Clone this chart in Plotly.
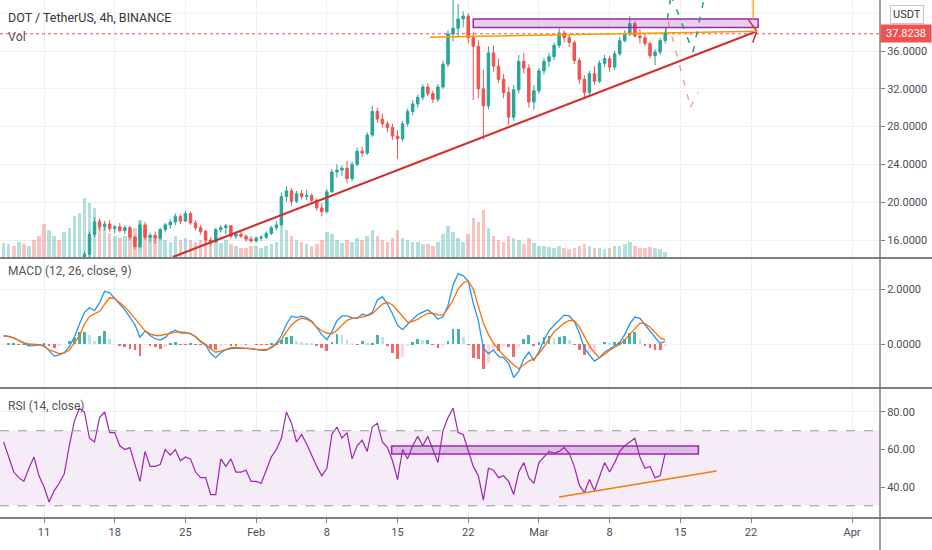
import pandas as pd
import plotly.graph_objects as go

# 12h candles, DOT/USDT
times = pd.date_range("2021-01-07 00:00", periods=132, freq="12h")

opens = [
    9.6, 10.2, 10.7, 10.3, 10.8, 10.6, 11.1, 10.8, 10.1, 8.7, 9.2, 9.6, 9.3, 10.1, 10.7, 11.8,
    13.1, 14.5, 16.6, 17.9, 17.4, 17.7, 17.2, 17.4, 17.0, 17.3, 16.3, 15.3, 17.6, 16.3, 16.5, 16.2,
    17.1, 17.6, 17.9, 18.5, 18.0, 18.8, 17.8, 17.3, 16.9, 16.0, 15.8, 17.1, 17.3, 17.5, 16.4, 16.6,
    16.4, 16.1,
    15.9, 16.2, 16.3, 16.7, 17.3, 17.6, 20.6, 21.2, 20.1, 20.9, 20.6, 20.7, 20.2, 19.4, 19.0, 21.1,
    23.2, 23.4, 23.6, 22.5, 24.0, 25.4, 25.2, 27.1, 29.6, 28.8, 28.3, 27.9, 27.0, 26.7, 28.3, 29.6,
    30.4, 31.1, 32.2, 31.5, 30.9, 32.2, 34.6, 37.8, 38.4, 39.4, 39.7, 37.4, 36.5, 32.0, 30.2, 35.8,
    34.4, 33.0, 31.6, 29.0, 31.9, 34.9, 34.2, 30.6,
    31.8, 33.9, 34.9, 35.4, 36.6, 37.9, 37.4, 36.9, 35.0, 33.0, 31.6, 33.6, 32.8, 34.7, 35.2, 34.3,
    35.7, 37.1, 37.8, 38.9, 37.6, 37.4, 36.8, 35.5, 35.9, 37.1,
]
highs = [
    10.4, 10.9, 11.0, 10.9, 11.1, 11.3, 11.4, 11.0, 10.2, 9.4, 9.9, 9.8, 10.3, 10.9, 12.0, 13.3,
    14.8, 16.9, 18.4, 18.3, 18.0, 18.1, 17.6, 17.8, 17.6, 17.5, 16.5, 18.0, 17.9, 16.8, 16.9, 17.3,
    17.8, 18.2, 18.8, 18.7, 19.1, 19.0, 18.1, 17.6, 17.1, 16.3, 17.3, 17.6, 17.7, 17.6, 16.9, 16.9,
    16.6, 16.4,
    16.4, 16.5, 16.9, 17.5, 18.0, 21.0, 21.7, 21.5, 21.2, 21.3, 21.3, 20.9, 20.4, 19.9, 21.4, 23.5,
    24.0, 23.9, 24.4, 24.3, 25.8, 25.9, 27.4, 30.2, 30.0, 29.4, 28.6, 28.3, 27.6, 28.6, 29.9, 30.8,
    31.4, 32.5, 32.6, 31.8, 32.5, 35.0, 38.2, 42.0, 41.0, 40.2, 40.0, 38.0, 37.2, 34.0, 36.5, 36.6,
    35.2, 33.6, 32.2, 32.4, 35.6, 35.8, 34.6, 32.4,
    34.2, 35.3, 35.8, 36.9, 38.4, 38.2, 37.7, 37.1, 35.3, 33.4, 33.9, 34.4, 35.0, 35.6, 35.5, 36.0,
    37.5, 38.2, 39.7, 39.2, 38.3, 37.9, 37.0, 36.2, 37.4, 38.0,
]
lows = [
    9.4, 10.0, 10.0, 10.1, 10.5, 10.5, 10.6, 9.9, 8.0, 8.3, 9.0, 9.0, 9.2, 9.9, 10.6, 11.6,
    12.7, 14.2, 16.3, 17.0, 17.0, 16.9, 16.7, 16.8, 16.6, 16.0, 15.0, 15.1, 16.0, 15.8, 15.6, 16.0,
    16.8, 17.2, 17.6, 17.7, 17.9, 17.6, 17.0, 16.6, 15.7, 15.4, 15.7, 16.8, 16.6, 16.2, 16.1, 16.2,
    15.8, 15.7,
    15.7, 15.9, 16.1, 16.5, 17.0, 17.4, 20.0, 19.6, 19.9, 20.3, 20.2, 19.9, 19.1, 18.5, 18.8, 21.0,
    22.6, 22.8, 22.0, 22.2, 23.8, 24.8, 25.0, 26.9, 28.4, 27.9, 27.4, 26.6, 24.6, 26.4, 28.0, 29.2,
    30.0, 30.8, 31.2, 30.5, 30.6, 32.0, 34.3, 37.0, 37.6, 38.5, 36.8, 30.8, 31.0, 26.6, 29.8, 33.8,
    32.6, 31.0, 28.2, 28.6, 31.5, 33.6, 30.0, 29.8,
    31.5, 33.5, 34.3, 35.0, 36.3, 36.9, 36.4, 34.6, 32.5, 30.9, 31.3, 32.4, 32.6, 34.3, 33.8, 34.0,
    35.5, 36.9, 37.6, 37.4, 36.8, 36.5, 35.2, 34.5, 35.6, 36.8,
]
closes = [
    10.2, 10.7, 10.3, 10.8, 10.6, 11.1, 10.8, 10.1, 8.7, 9.2, 9.6, 9.3, 10.1, 10.7, 11.8, 13.1,
    14.5, 16.6, 17.9, 17.4, 17.7, 17.2, 17.4, 17.0, 17.3, 16.3, 15.3, 17.6, 16.3, 16.5, 16.2, 17.1,
    17.6, 17.9, 18.5, 18.0, 18.8, 17.8, 17.3, 16.9, 16.0, 15.8, 17.1, 17.3, 17.5, 16.4, 16.6, 16.4,
    16.1, 15.9,
    16.2, 16.3, 16.7, 17.3, 17.6, 20.6, 21.2, 20.1, 20.9, 20.6, 20.7, 20.2, 19.4, 19.0, 21.1, 23.2,
    23.4, 23.6, 22.5, 24.0, 25.4, 25.2, 27.1, 29.6, 28.8, 28.3, 27.9, 27.0, 26.7, 28.3, 29.6, 30.4,
    31.1, 32.2, 31.5, 30.9, 32.2, 34.6, 37.8, 38.4, 39.4, 39.7, 37.4, 36.5, 32.0, 30.2, 35.8, 34.4,
    33.0, 31.6, 29.0, 31.9, 34.9, 34.2, 30.6, 31.8,
    33.9, 34.9, 35.4, 36.6, 37.9, 37.4, 36.9, 35.0, 33.0, 31.6, 33.6, 32.8, 34.7, 35.2, 34.3, 35.7,
    37.1, 37.8, 38.9, 37.6, 37.4, 36.8, 35.5, 35.9, 37.1, 37.8238,
]
volume = [
    1500, 1400, 1200, 1600, 1400, 1200, 1800, 2200, 3400, 2800, 2200, 1800, 2600, 3000, 4200, 4500,
    6000, 5500, 5000, 3800, 3000, 2500, 2200, 2000, 2200, 2800, 3000, 3800, 3000, 2200, 2000, 2200,
    1800, 1600, 2200, 1800, 2000, 1800, 1600, 1800, 2200, 1800, 2000, 1500, 1800, 1400, 1200, 1000,
    1000, 1200,
    1200, 1000, 1200, 1400, 1600, 3200, 2800, 2200, 1800, 1600, 1400, 1200, 1400, 1800, 2600, 2400,
    1800, 1500, 1800, 1600, 2000, 1800, 2200, 2800, 2200, 1800, 1600, 2000, 2800, 2000, 1800, 1600,
    1600, 1400, 1400, 1200, 1600, 2400, 3200, 2600, 2000, 1600, 2400, 4000, 3600, 4800, 3000, 2200,
    1800, 1600, 2200, 2000, 1800, 1400, 2000, 1500,
    1200, 1200, 1100, 1000, 1200, 1000, 900, 1000, 1200, 1400, 1200, 1000, 1000, 900, 1000, 1200,
    1200, 1400, 1600, 1200, 1000, 1000, 1100, 1000, 900, 600,
]

# MACD (12, 26, close, 9)
macd = [
    0.30, 0.28, 0.22, 0.12, 0.02, -0.07, -0.06, -0.03, -0.05, -0.25,
    -0.44, -0.40, -0.32, -0.10, 0.25, 0.72, 1.15, 1.32, 1.22, 1.50,
    1.92, 1.86, 1.65, 1.46, 1.24, 0.98, 0.70, 0.25, 0.47, 0.31,
    0.19, 0.14, 0.24, 0.43, 0.50, 0.41, 0.39, 0.39, 0.26, 0.08,
    -0.04, -0.35, -0.50, -0.32, -0.21, -0.17, -0.16, -0.15, -0.16, -0.17,
    -0.21, -0.23, -0.23, -0.12, 0.02, 0.30, 0.72, 1.01, 0.96, 1.01,
    0.95, 0.84, 0.58, 0.34, 0.16, 0.45, 0.85, 1.02, 1.02, 0.95,
    0.93, 1.08, 1.04, 1.15, 1.60, 1.72, 1.45, 1.10, 0.68, 0.52,
    0.72, 0.88, 1.07, 1.16, 1.25, 1.10, 0.90, 1.00, 1.40, 2.15,
    2.56, 2.49, 2.28, 1.48, 0.85, -0.15, -0.35, -0.22, -0.45, -0.50,
    -0.70, -1.22, -1.00, -0.55, -0.30, -0.60, -0.28, 0.15, 0.48, 0.68,
    0.86, 1.05, 1.02, 0.82, 0.40, -0.15, -0.40, -0.62, -0.50, -0.30,
    -0.18, -0.06, 0.05, 0.35, 0.73, 0.98, 0.93, 0.70, 0.48, 0.22,
    0.02, 0.10,
]
signal = [
    0.30, 0.27, 0.21, 0.13, 0.05, 0.00, -0.01, -0.02, -0.09, -0.21,
    -0.28, -0.35, -0.32, -0.22, 0.04, 0.30, 0.72, 1.00, 1.10, 1.19,
    1.45, 1.68, 1.65, 1.50, 1.35, 1.15, 0.92, 0.70, 0.48, 0.37,
    0.31, 0.31, 0.35, 0.40, 0.43, 0.44, 0.42, 0.37, 0.27, 0.11,
    -0.01, -0.18, -0.30, -0.26, -0.19, -0.13, -0.12, -0.14, -0.15, -0.17,
    -0.19, -0.21, -0.20, -0.14, -0.01, 0.15, 0.45, 0.70, 0.85, 0.94,
    0.90, 0.80, 0.62, 0.48, 0.40, 0.37, 0.50, 0.70, 0.86, 0.93,
    0.95, 0.98, 1.02, 1.10, 1.28, 1.45, 1.52, 1.42, 1.22, 1.00,
    0.79, 0.82, 0.90, 1.02, 1.11, 1.12, 1.06, 1.05, 1.30, 1.60,
    2.00, 2.22, 2.30, 2.00, 1.40, 0.75, 0.35, 0.03, -0.20, -0.42,
    -0.58, -0.76, -0.90, -0.75, -0.62, -0.54, -0.35, -0.10, 0.18, 0.45,
    0.60, 0.76, 0.86, 0.85, 0.62, 0.25, -0.07, -0.32, -0.50, -0.38,
    -0.23, -0.12, -0.02, 0.16, 0.34, 0.55, 0.76, 0.74, 0.62, 0.42,
    0.22, 0.16,
]
hist = [
    0.00, 0.01, 0.01, -0.01, -0.03, -0.07, -0.05, -0.01, 0.04, -0.04,
    -0.16, -0.05, 0.00, 0.12, 0.21, 0.42, 0.43, 0.32, 0.12, 0.31,
    0.47, 0.18, 0.00, -0.04, -0.11, -0.17, -0.22, -0.45, -0.01, -0.06,
    -0.12, -0.17, -0.11, 0.03, 0.07, -0.03, -0.03, 0.02, -0.01, -0.03,
    -0.03, -0.17, -0.20, -0.06, -0.02, -0.04, -0.04, -0.01, -0.01, 0.00,
    -0.02, -0.02, -0.03, 0.02, 0.03, 0.15, 0.27, 0.31, 0.11, 0.07,
    0.05, 0.04, -0.04, -0.14, -0.24, 0.08, 0.35, 0.32, 0.16, 0.02,
    -0.02, 0.10, 0.02, 0.05, 0.32, 0.27, -0.07, -0.32, -0.54, -0.48,
    -0.07, 0.06, 0.17, 0.14, 0.14, -0.02, -0.16, -0.05, 0.10, 0.55,
    0.56, 0.27, -0.02, -0.52, -0.55, -0.90, -0.70, -0.25, -0.25, -0.08,
    -0.12, -0.46, -0.10, 0.20, 0.32, -0.06, 0.07, 0.25, 0.30, 0.23,
    0.26, 0.29, 0.16, -0.03, -0.22, -0.40, -0.33, -0.30, 0.00, 0.08,
    0.05, 0.06, 0.07, 0.19, 0.39, 0.43, 0.17, -0.04, -0.14, -0.20,
    -0.20, -0.06,
]

# RSI (14, close)
rsi = [
    64, 56, 48, 45, 43, 50, 56, 46, 40, 32,
    38, 42, 47, 62, 75, 82, 80, 66, 64, 77,
    80, 69, 69, 62, 60, 61, 52, 43, 59, 51,
    51, 52, 60, 57, 60, 54, 56, 55, 48, 45,
    45, 36, 36, 55, 51, 55, 48, 48, 49, 43,
    43, 42, 49, 56, 60, 66, 80, 74, 64, 68,
    63, 57, 51, 46, 50, 68, 72, 66, 69, 55,
    62, 65, 59, 72, 74, 64, 61, 54, 44, 60,
    55, 62, 67, 62, 67, 60, 53, 70, 77, 82,
    69, 68, 60, 51, 46, 33, 50, 49, 45, 46,
    43, 36, 48, 53, 45, 42, 53, 56, 59, 58,
    59, 61, 58, 51, 41, 37, 44, 38, 45, 53,
    48, 53, 59, 62, 64, 66, 56, 50, 51, 45,
    46, 58,
]

tick_dates = ["2021-01-11", "2021-01-18", "2021-01-25", "2021-02-01", "2021-02-08",
              "2021-02-15", "2021-02-22", "2021-03-01", "2021-03-08", "2021-03-15",
              "2021-03-22", "2021-04-01"]
tick_text = ["11", "18", "25", "Feb", "8", "15", "22", "Mar", "8", "15", "22", "Apr"]
price_ticks = [16, 20, 24, 28, 32, 36]

last_price = 37.8238

UP = "#26a69a"
DOWN = "#ef5350"
GRID = "#edf0f5"
FRAME = "#7b7e87"
TXT = "#4a4d57"
FONT = "Roboto"
HALF_DAY_MS = 12 * 3600 * 1000

vol_colors = ["rgba(38,166,154,0.35)" if c >= o else "rgba(239,83,80,0.35)"
              for o, c in zip(opens, closes)]

hist_colors = []
prev = 0
for h in hist:
    if h >= 0:
        hist_colors.append("#26a69a" if h >= prev else "#b2dfdb")
    else:
        hist_colors.append("#ffcdd2" if h > prev else "#ef5350")
    prev = h

fig = go.Figure()

fig.add_trace(go.Bar(x=times, y=volume, marker=dict(color=vol_colors, line=dict(width=0)),
                     width=HALF_DAY_MS * 0.7, xaxis="x", yaxis="y"))
fig.add_trace(go.Candlestick(x=times, open=opens, high=highs, low=lows, close=closes,
                             increasing=dict(line=dict(color=UP, width=1), fillcolor=UP),
                             decreasing=dict(line=dict(color=DOWN, width=1), fillcolor=DOWN),
                             whiskerwidth=0, xaxis="x", yaxis="y2"))

fig.add_trace(go.Bar(x=times, y=hist, marker=dict(color=hist_colors, line=dict(width=0)),
                     width=HALF_DAY_MS * 0.55, opacity=0.85, xaxis="x2", yaxis="y3"))
fig.add_trace(go.Scatter(x=times, y=macd, mode="lines", line=dict(color="#2196f3", width=1.3),
                         xaxis="x2", yaxis="y3"))
fig.add_trace(go.Scatter(x=times, y=signal, mode="lines", line=dict(color="#ff6d00", width=1.3),
                         xaxis="x2", yaxis="y3"))

fig.add_trace(go.Scatter(x=times, y=rsi, mode="lines", line=dict(color="#9c27b0", width=1.2),
                         xaxis="x3", yaxis="y4"))

xcommon = dict(type="date", range=["2021-01-06 15:20", "2021-04-03 18:30"],
               tickvals=tick_dates, showgrid=True, gridcolor=GRID, gridwidth=1,
               zeroline=False, fixedrange=True, automargin=False)
ycommon = dict(side="right", showgrid=True, gridcolor=GRID, zeroline=False,
               ticks="outside", ticklen=4, tickcolor=FRAME, automargin=False,
               tickfont=dict(family=FONT, size=11, color=TXT))

fig.update_layout(
    width=932, height=550,
    margin=dict(l=0, r=52, t=0, b=32, autoexpand=False),
    paper_bgcolor="white", plot_bgcolor="white",
    showlegend=False,
    bargap=0,
    xaxis=dict(xcommon, anchor="y", showticklabels=False, ticks="",
               rangeslider=dict(visible=False)),
    xaxis2=dict(xcommon, anchor="y3", matches="x", showticklabels=False, ticks=""),
    xaxis3=dict(xcommon, anchor="y4", matches="x", ticktext=tick_text, ticks="outside",
                ticklen=4, tickcolor=FRAME, tickfont=dict(family=FONT, size=11, color=TXT)),
    yaxis=dict(domain=[0.502, 1], anchor="x", range=[0, 25800], visible=False, automargin=False),
    yaxis2=dict(ycommon, overlaying="y", anchor="x", range=[14.1, 41.4],
                tickvals=price_ticks, tickformat=".4f"),
    yaxis3=dict(ycommon, domain=[0.251, 0.502], anchor="x2", range=[-1.6, 3.13],
                tickvals=[0, 2], tickformat=".4f"),
    yaxis4=dict(ycommon, domain=[0, 0.251], anchor="x3", range=[23.5, 92.8],
                tickvals=[40, 60, 80], tickformat=".2f"),
)

shapes = []

# price grid line hidden behind the USDT tag
shapes.append(dict(type="line", xref="x domain", yref="y2", x0=0, x1=1, y0=40, y1=40,
                   line=dict(color=GRID, width=1), layer="below"))

# RSI band 30-70
shapes.append(dict(type="rect", xref="x3 domain", yref="y4", x0=0, x1=1, y0=30, y1=70,
                   fillcolor="rgba(156,39,176,0.09)", line=dict(width=0), layer="below"))
for lvl in (30, 70):
    shapes.append(dict(type="line", xref="x3 domain", yref="y4", x0=0, x1=1, y0=lvl, y1=lvl,
                       line=dict(color="#9598a1", width=1, dash="dash")))

# last price dotted line
shapes.append(dict(type="line", xref="x domain", yref="y2", x0=0, x1=1,
                   y0=last_price, y1=last_price, line=dict(color=DOWN, width=1, dash="dot")))

# drawings on the price pane
RED = "#d32f2f"
ORANGE = "#ff9800"
PURPLE = "#9c27b0"


def seg(x0, y0, x1, y1, color, width=1.5, dash="solid", xref="x", yref="y2"):
    return dict(type="line", xref=xref, yref=yref, x0=x0, y0=y0, x1=x1, y1=y1,
                line=dict(color=color, width=width, dash=dash))


shapes.append(dict(type="rect", xref="x", yref="y2", x0="2021-02-22 12:00", x1="2021-03-22 17:00",
                   y0=38.5, y1=39.4, fillcolor="rgba(156,39,176,0.22)",
                   line=dict(color=PURPLE, width=1.5)))
shapes.append(seg("2021-01-23 18:00", 14.2, "2021-03-22 14:00", 38.1, RED, 2.2))
shapes.append(seg("2021-03-21 18:00", 39.3, "2021-03-22 14:00", 38.1, RED, 1.5))
shapes.append(seg("2021-03-22 04:00", 36.9, "2021-03-22 14:00", 38.1, RED, 1.5))
shapes.append(seg("2021-02-18 05:00", 37.45, "2021-03-22 14:00", 38.1, ORANGE, 1.5))
shapes.append(seg("2021-03-22 05:00", 39.4, "2021-03-22 05:00", 42.5, ORANGE, 1.2))

# projected paths
TEAL = "#1e9e8e"
PINK = "rgba(239,83,80,0.55)"
shapes.append(seg("2021-03-13 12:00", 37.8, "2021-03-14 02:00", 41.9, TEAL, 1.5, "6px,9px"))
shapes.append(seg("2021-03-14 02:00", 41.9, "2021-03-16 06:00", 35.9, TEAL, 1.5, "6px,9px"))
shapes.append(seg("2021-03-16 06:00", 35.9, "2021-03-17 10:00", 41.9, TEAL, 1.5, "6px,9px"))
shapes.append(seg("2021-03-13 19:00", 39.1, "2021-03-16 00:00", 30.1, PINK, 1.5, "6px,9px"))
shapes.append(seg("2021-03-16 00:00", 30.1, "2021-03-16 19:00", 31.6, PINK, 1.5, "6px,9px"))

# drawings on the RSI pane
shapes.append(dict(type="rect", xref="x3", yref="y4", x0="2021-02-14 10:00", x1="2021-03-16 19:00",
                   y0=57.6, y1=61.9, fillcolor="rgba(156,39,176,0.25)",
                   line=dict(color=PURPLE, width=1.5)))
shapes.append(seg("2021-03-03 00:00", 34.7, "2021-03-18 14:00", 48.5, "#f57c00", 1.5,
                  xref="x3", yref="y4"))

# pane separators and frame
for yy in (0.502, 0.251, 0.0):
    shapes.append(dict(type="line", xref="paper", yref="paper", x0=0, x1=1.06, y0=yy, y1=yy,
                       line=dict(color=FRAME, width=2)))
shapes.append(dict(type="line", xref="paper", yref="paper", x0=1, x1=1, y0=-0.07, y1=1,
                   line=dict(color=FRAME, width=1.5)))

fig.update_layout(shapes=shapes)

annotations = [
    dict(text="DOT / TetherUS, 4h, BINANCE", x=0.007, y=17, xanchor="left",
         font=dict(size=12.5, color="#333640")),
    dict(text="Vol", x=0.007, y=37, xanchor="left", font=dict(size=12.5, color="#555")),
    dict(text="MACD (12, 26, close, 9)", x=0.007, y=271, xanchor="left",
         font=dict(size=12, color="#555")),
    dict(text="RSI (14, close)", x=0.007, y=406, xanchor="left", font=dict(size=12, color="#555")),
]
for a in annotations:
    a.update(xref="paper", yref="paper", showarrow=False, yanchor="middle")
    a["y"] = 1 - a["y"] / 518
    a["font"]["family"] = FONT
    fig.add_annotation(**a)

fig.add_annotation(text="USDT", xref="paper", yref="y2", x=1.011, y=39.85, xanchor="left",
                   showarrow=False, bgcolor="white", bordercolor="#c3c6ce", borderwidth=1,
                   borderpad=2, font=dict(family=FONT, size=11, color="#333"))
fig.add_annotation(text="37.8238", xref="paper", yref="y2", x=1.0, y=last_price, xanchor="left",
                   showarrow=False, bgcolor=DOWN, width=46, borderpad=2,
                   font=dict(family=FONT, size=11, color="white"))

# the page's default body margin would push the chart 8px down and right
fig.write_html("out.html", config={"displayModeBar": False},
               post_script="document.body.style.margin='0';")
